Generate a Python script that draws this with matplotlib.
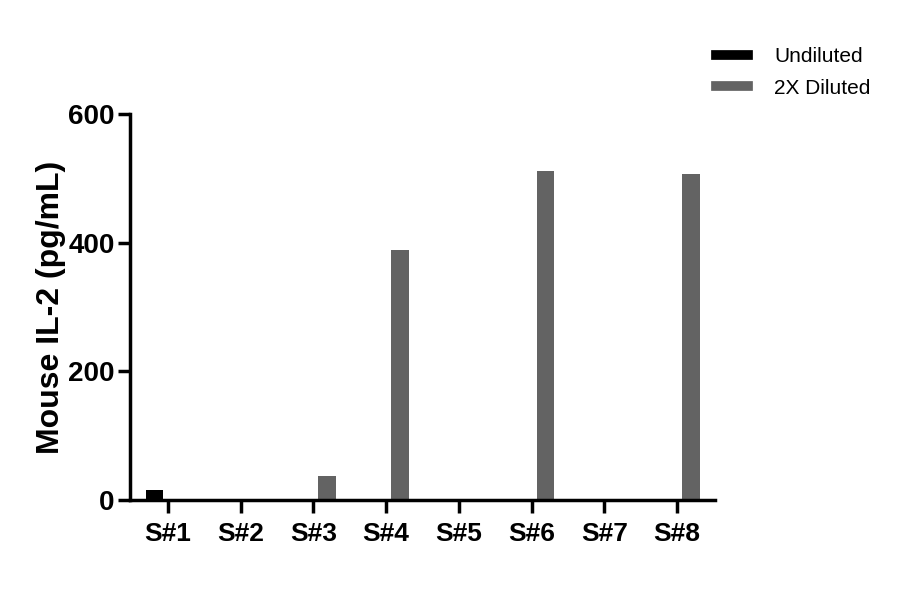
import numpy as np
import matplotlib
matplotlib.use('Agg')
import matplotlib.pyplot as plt
from matplotlib.lines import Line2D

samples = ['S#1', 'S#2', 'S#3', 'S#4', 'S#5', 'S#6', 'S#7', 'S#8']
undiluted = [15, 0, 0, 0, 0, 0, 0, 0]
diluted = [0, 0, 37, 389, 0, 511, 0, 507]
series_names = ['Undiluted', '2X Diluted']

plt.rcParams['font.family'] = ['Liberation Sans', 'DejaVu Sans']

fig = plt.figure(figsize=(9, 5.94), dpi=100)
ax = fig.add_axes([0.1444, 0.158, 0.65, 0.65])

x = np.arange(len(samples))
w = 0.24
ax.bar(x - 0.18, undiluted, w, color='#000000')
ax.bar(x + 0.19, diluted, w, color='#636363')

ax.set_xlim(-0.52, len(samples) - 0.48)
ax.set_ylim(0, 600)
ax.set_yticks([0, 200, 400, 600])
ax.set_xticks(x)
ax.set_xticklabels(samples)

for s in ['top', 'right']:
    ax.spines[s].set_visible(False)
for s in ['left', 'bottom']:
    ax.spines[s].set_linewidth(2.5)

ax.tick_params(axis='both', width=2.5, length=9)
for lab in ax.get_xticklabels() + ax.get_yticklabels():
    lab.set_fontweight('bold')
    lab.set_fontsize(20)
for lab in ax.get_xticklabels():
    lab.set_fontsize(19)
ax.tick_params(axis='x', pad=7)
ax.tick_params(axis='y', pad=2)
ax.set_ylabel('Mouse IL-2 (pg/mL)', fontsize=23, fontweight='bold')
ax.yaxis.set_label_coords(-0.109, 0.5)

handles = [Line2D([0], [0], color='#000000', lw=7),
           Line2D([0], [0], color='#636363', lw=7)]
fig.legend(handles, series_names, loc='upper left', bbox_to_anchor=(0.775, 0.952),
           frameon=False, fontsize=15, handlelength=1.5, handletextpad=1.28,
           labelspacing=0.6)

fig.savefig('out.png', dpi=100)
